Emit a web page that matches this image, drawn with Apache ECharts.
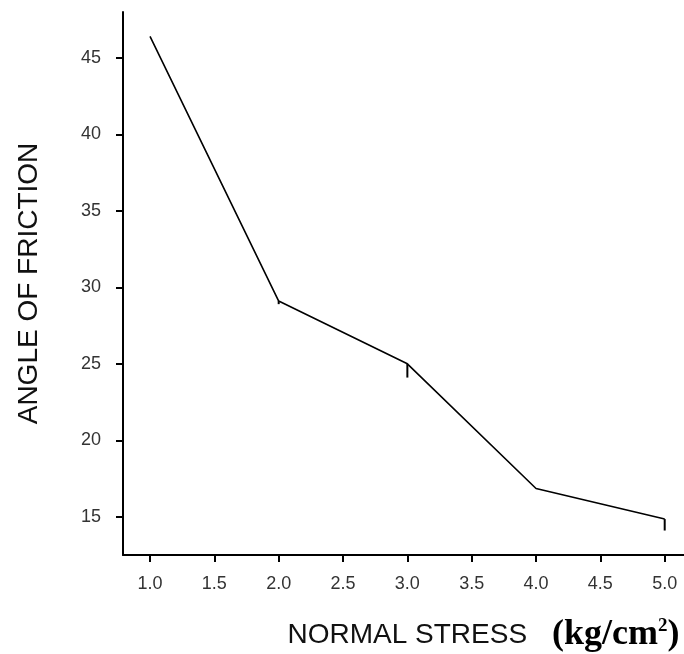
<!DOCTYPE html>
<html>
<head>
<meta charset="utf-8">
<script src="https://cdn.jsdelivr.net/npm/echarts@6/dist/echarts.min.js"></script>
<style>html,body{margin:0;padding:0;background:#fff;}#c{width:684px;height:654px;}</style>
</head>
<body>
<div id="c"></div>
<script>
var stress = [1.0, 2.0, 3.0, 4.0, 5.0];
var angle = [46.4, 29.1, 25.0, 16.85, 14.85];
var errX = [2.0, 3.0, 5.0];
var errTop = [29.1, 25.0, 14.85];
var errLow = [28.9, 24.1, 14.1];
var xTicks = [1.0, 1.5, 2.0, 2.5, 3.0, 3.5, 4.0, 4.5, 5.0];
var yTicks = [15, 20, 25, 30, 35, 40, 45];

var chart = echarts.init(document.getElementById('c'), null, {renderer: 'canvas'});
var lineData = stress.map(function (x, i) { return [x, angle[i]]; });
var errData = errX.map(function (x, i) { return [x, errTop[i], errLow[i]]; });
var lblFont = {color: '#333', fontSize: 18, fontFamily: 'Liberation Sans, Arial, sans-serif'};
var serifBold = 'Liberation Serif, Times New Roman, serif';

chart.setOption({
  backgroundColor: '#fff',
  animation: false,
  grid: {left: 123, top: 12, right: 0, bottom: 99, containLabel: false, outerBoundsMode: 'none'},
  xAxis: {
    type: 'value', min: 0.79, max: 5.15,
    axisLine: {show: true, lineStyle: {color: '#000', width: 2}},
    axisTick: {show: true, length: 7, lineStyle: {color: '#000', width: 2}, customValues: xTicks},
    axisLabel: Object.assign({margin: 20, customValues: xTicks, formatter: function (v) { return v.toFixed(1); }}, lblFont),
    splitLine: {show: false},
    name: '{a|NORMAL STRESS}{p|(kg/cm}{c|2}{b|)}',
    nameLocation: 'middle',
    nameGap: 62,
    nameTextStyle: {
      padding: [0, 0, 0, 160],
      rich: {
        a: {fontSize: 28, color: '#111', verticalAlign: 'middle', fontFamily: 'Liberation Sans, Arial, sans-serif'},
        p: {fontSize: 36, fontWeight: 'bold', color: '#000', verticalAlign: 'middle', padding: [0, 0, 0, 25], fontFamily: serifBold},
        b: {fontSize: 36, fontWeight: 'bold', color: '#000', verticalAlign: 'middle', fontFamily: serifBold},
        c: {fontSize: 19, fontWeight: 'bold', color: '#000', verticalAlign: 'top', fontFamily: serifBold}
      }
    }
  },
  yAxis: {
    type: 'value', min: 12.5, max: 48,
    axisLine: {show: true, lineStyle: {color: '#000', width: 2}},
    axisTick: {show: true, length: 7, lineStyle: {color: '#000', width: 2}, customValues: yTicks},
    axisLabel: Object.assign({margin: 22, customValues: yTicks}, lblFont),
    splitLine: {show: false},
    name: 'ANGLE OF FRICTION',
    nameLocation: 'middle',
    nameGap: 80,
    nameTextStyle: {fontSize: 28, color: '#111', fontFamily: 'Liberation Sans, Arial, sans-serif'}
  },
  series: [
    {
      type: 'line', data: lineData, showSymbol: false, symbol: 'none',
      lineStyle: {color: '#000', width: 1.6}
    },
    {
      type: 'custom', data: errData,
      renderItem: function (params, api) {
        var p1 = api.coord([api.value(0), api.value(1)]);
        var p2 = api.coord([api.value(0), api.value(2)]);
        return {type: 'line', shape: {x1: p1[0], y1: p1[1], x2: p2[0], y2: p2[1]}, style: {stroke: '#000', lineWidth: 2}};
      }
    }
  ]
});
</script>
</body>
</html>
